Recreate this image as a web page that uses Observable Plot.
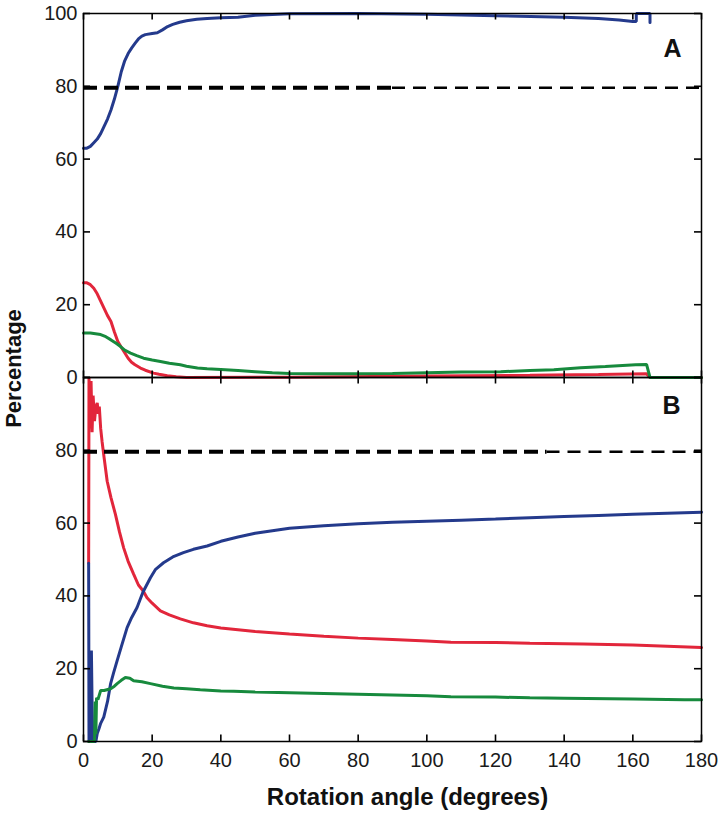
<!DOCTYPE html>
<html><head><meta charset="utf-8">
<script src="https://cdn.jsdelivr.net/npm/d3@7"></script>
<script src="https://cdn.jsdelivr.net/npm/@observablehq/plot@0.6"></script>
<style>html,body{margin:0;padding:0;background:#fff;} #chart svg{display:block;}</style>
</head><body><div id="chart"></div>
<script>
const panels = ["A", "B"];
const xTicks = [0, 20, 40, 60, 80, 100, 120, 140, 160, 180];
const yTicksA = [0, 20, 40, 60, 80, 100];
const yTicksB = [0, 20, 40, 60, 80];
const threshold = 79.6;
const dashBreaks = [90, 135]; // where the thick dashes become thin, panels A and B
const xLabel = "Rotation angle (degrees)";
const yLabel = "Percentage";

// Panel A
const blueA = [[0,63],[1,63],[2,63.5],[3,64.5],[4,65.5],[5,67],[6,69],[7,71],[8,73.5],[9,76.5],[10,80],[11,84],[12,87],[13,89],[14,90.5],[15,91.8],[16,93],[17,93.8],[18,94.2],[20,94.5],[21.5,94.7],[23,95.5],[24.5,96.4],[26,97],[28,97.6],[30,98],[33,98.4],[36,98.6],[40,98.8],[45,99],[50,99.5],[55,99.7],[60,99.9],[80,100],[100,99.8],[120,99.4],[140,99],[150,98.6],[156,98.2],[160,97.8],[161,97.8],[161,100],[165,100],[165,97.5]];
const redA = [[0,26],[1,26],[2,25.5],[3,24.5],[4,23],[5,21],[6,19],[7,17],[8,15.4],[9,12.5],[10,9.9],[11,8.3],[12,6.8],[13,5.3],[14,4.2],[15,3.5],[16.6,2.6],[18,2],[20.4,1.2],[22,0.9],[24.4,0.5],[27,0.2],[30,0],[60,0.1],[100,0.4],[130,0.6],[150,0.8],[164,1],[165,0],[180,0]];
const greenA = [[0,12.2],[2,12.2],[5,11.8],[6.5,11.2],[7.9,10.4],[9.5,9.4],[10.8,8.5],[12,7.5],[13.7,6.7],[15.5,6],[17.5,5.3],[20,4.8],[22.4,4.4],[25,3.9],[28.2,3.5],[30,3.1],[33.2,2.6],[36,2.4],[40,2.2],[45,1.9],[50,1.6],[55,1.3],[60,1.1],[70,1],[80,1],[90,1.1],[100,1.3],[110,1.5],[121.5,1.6],[130,1.9],[137,2.1],[144.8,2.7],[152,3],[160.8,3.5],[164,3.6],[165,0],[180,0]];

// Panel B
const redB = [[1.5,49],[1.6,100],[1.9,86],[2.2,99],[2.5,85],[2.8,95],[3.2,88],[3.6,92],[4,93],[4.3,90],[4.6,92],[5,86],[5.4,82.5],[6,78],[6.9,71.5],[8,67],[9.3,62.4],[10.5,57.5],[11.7,53.2],[13,49.5],[14.6,46],[16,43],[17.3,41.5],[18.5,39.5],[20,38],[22.4,35.9],[25,34.8],[28.2,33.7],[32,32.6],[36,31.8],[40,31.2],[50,30.2],[60,29.5],[70,28.9],[80,28.4],[90,28],[100,27.6],[107,27.3],[120,27.2],[130,27],[145.6,26.8],[160,26.5],[170,26.2],[180,25.8]];
const blueB = [[1.5,49],[1.6,0],[2.1,0],[2.3,25],[2.5,10],[2.7,0],[3.6,0],[4,2.2],[4.5,3.5],[5,5],[5.9,6.7],[7,11],[7.9,15.9],[8.8,19],[9.8,22.2],[11,26],[12.7,31.3],[14,34],[15.6,36.8],[17.3,41],[19.5,45],[21,47.3],[23.3,49.1],[26,50.7],[29.1,51.9],[32,52.8],[36,53.7],[40,55],[45,56.2],[50,57.2],[55,57.9],[60,58.6],[70,59.3],[80,59.8],[90,60.2],[100,60.5],[110,60.8],[120,61.1],[130,61.5],[140,61.8],[150,62.1],[160,62.4],[170,62.7],[180,63]];
const greenB = [[1.5,0],[3.2,0],[3.4,11],[3.6,2],[3.8,12],[4.2,11.5],[5,14],[6,14],[7.9,14.5],[9,15.2],[9.8,15.9],[11,16.8],[12.2,17.6],[13.5,17.4],[14.6,16.7],[17,16.4],[19.5,15.9],[23,15.2],[26.3,14.7],[30,14.5],[34,14.2],[40,13.9],[43.8,13.8],[50,13.6],[60,13.4],[70,13.2],[80,13],[90,12.8],[100,12.6],[107,12.3],[120,12.2],[130,12],[140,11.9],[160,11.7],[175,11.5],[180,11.5]];

const colors = {red: "#e2263b", blue: "#243a8c", green: "#178a3d"};
const font = "'Liberation Sans', Arial, Helvetica, sans-serif";

const W = 720, H = 814, mL = 83, mR = 19, mT = 12, mB = 73;
const facetW = W - mL - mR;
const facetH = (H - mT - mB) / panels.length;
const tickLen = 7;

const tag = (panel, pts) => pts.map(([x, y]) => ({panel, x, y}));
const seriesByPanel = {
  A: [["red", redA], ["blue", blueA], ["green", greenA]],
  B: [["red", redB], ["blue", blueB], ["green", greenB]]
};

const xMin = xTicks[0], xMax = xTicks[xTicks.length - 1];
const yMin = yTicksA[0], yMax = yTicksA[yTicksA.length - 1];

const thick = panels.map((p, i) => ({panel: p, x1: xMin, x2: dashBreaks[i]}));
const thin = panels.map((p, i) => ({panel: p, x1: dashBreaks[i], x2: xMax}));

const xTickRows = panels.flatMap(p => xTicks.map(t => ({panel: p, v: t})));
const yTickRows = panels.flatMap(p => yTicksA.map(t => ({panel: p, v: t})));

const marks = [];
for (const p of panels) {
  for (const [s, pts] of seriesByPanel[p]) {
    marks.push(Plot.line(tag(p, pts), {x: "x", y: "y", fy: "panel", stroke: colors[s], strokeWidth: 3, strokeLinejoin: "miter"}));
  }
}
const tickStyle = {fy: "panel", stroke: "black", strokeWidth: 1.6};
marks.push(
  Plot.ruleY(thick, {y: () => threshold, x1: "x1", x2: "x2", fy: "panel", stroke: "black", strokeWidth: 4, strokeDasharray: "14,7"}),
  Plot.ruleY(thin, {y: () => threshold, x1: "x1", x2: "x2", fy: "panel", stroke: "black", strokeWidth: 2.3, strokeDasharray: "13,8"}),
  Plot.frame({stroke: "black", strokeWidth: 1.5}),
  // inward ticks on all four sides of each panel
  Plot.tickX(xTickRows, {x: "v", insetTop: facetH - tickLen, ...tickStyle}),
  Plot.tickX(xTickRows, {x: "v", insetBottom: facetH - tickLen, ...tickStyle}),
  Plot.tickY(yTickRows, {y: "v", insetRight: facetW - tickLen, ...tickStyle}),
  Plot.tickY(yTickRows, {y: "v", insetLeft: facetW - tickLen, ...tickStyle}),
  Plot.text(yTicksA, {y: d => d, fy: () => "A", text: d => String(d), frameAnchor: "left", dx: -6, textAnchor: "end", lineAnchor: "middle", fontSize: 20, fill: "#1a1a1a"}),
  Plot.text(yTicksB, {y: d => d, fy: () => "B", text: d => String(d), frameAnchor: "left", dx: -6, textAnchor: "end", lineAnchor: "middle", fontSize: 20, fill: "#1a1a1a"}),
  Plot.text(xTicks, {x: d => d, fy: () => "B", text: d => String(d), frameAnchor: "bottom", dy: 11, textAnchor: "middle", lineAnchor: "top", fontSize: 20, fill: "#1a1a1a"}),
  Plot.text([xLabel], {fy: () => "B", text: d => d, frameAnchor: "bottom", dx: 15, dy: 46, lineAnchor: "top", fontSize: 24, fontWeight: "bold", fill: "#111"}),
  Plot.text([yLabel], {fy: () => "A", text: d => d, frameAnchor: "bottom-left", dx: -78, dy: -9, rotate: -90, textAnchor: "middle", lineAnchor: "top", fontSize: 22, fontWeight: "bold", fill: "#111"}),
  Plot.text(["A"], {fy: () => "A", text: d => d, frameAnchor: "top-right", dx: -20, dy: 35, textAnchor: "end", lineAnchor: "middle", fontSize: 25, fontWeight: "bold", fill: "#111"}),
  Plot.text(["B"], {fy: () => "B", text: d => d, frameAnchor: "top-right", dx: -21, dy: 28, textAnchor: "end", lineAnchor: "middle", fontSize: 25, fontWeight: "bold", fill: "#111"})
);

const chart = Plot.plot({
  width: W,
  height: H,
  marginLeft: mL,
  marginRight: mR,
  marginTop: mT,
  marginBottom: mB,
  style: {fontFamily: font, background: "white", overflow: "visible"},
  x: {domain: [xMin, xMax], axis: null},
  y: {domain: [yMin, yMax], axis: null},
  fy: {domain: panels, axis: null, padding: 0},
  marks
});
document.getElementById("chart").append(chart);
</script></body></html>
